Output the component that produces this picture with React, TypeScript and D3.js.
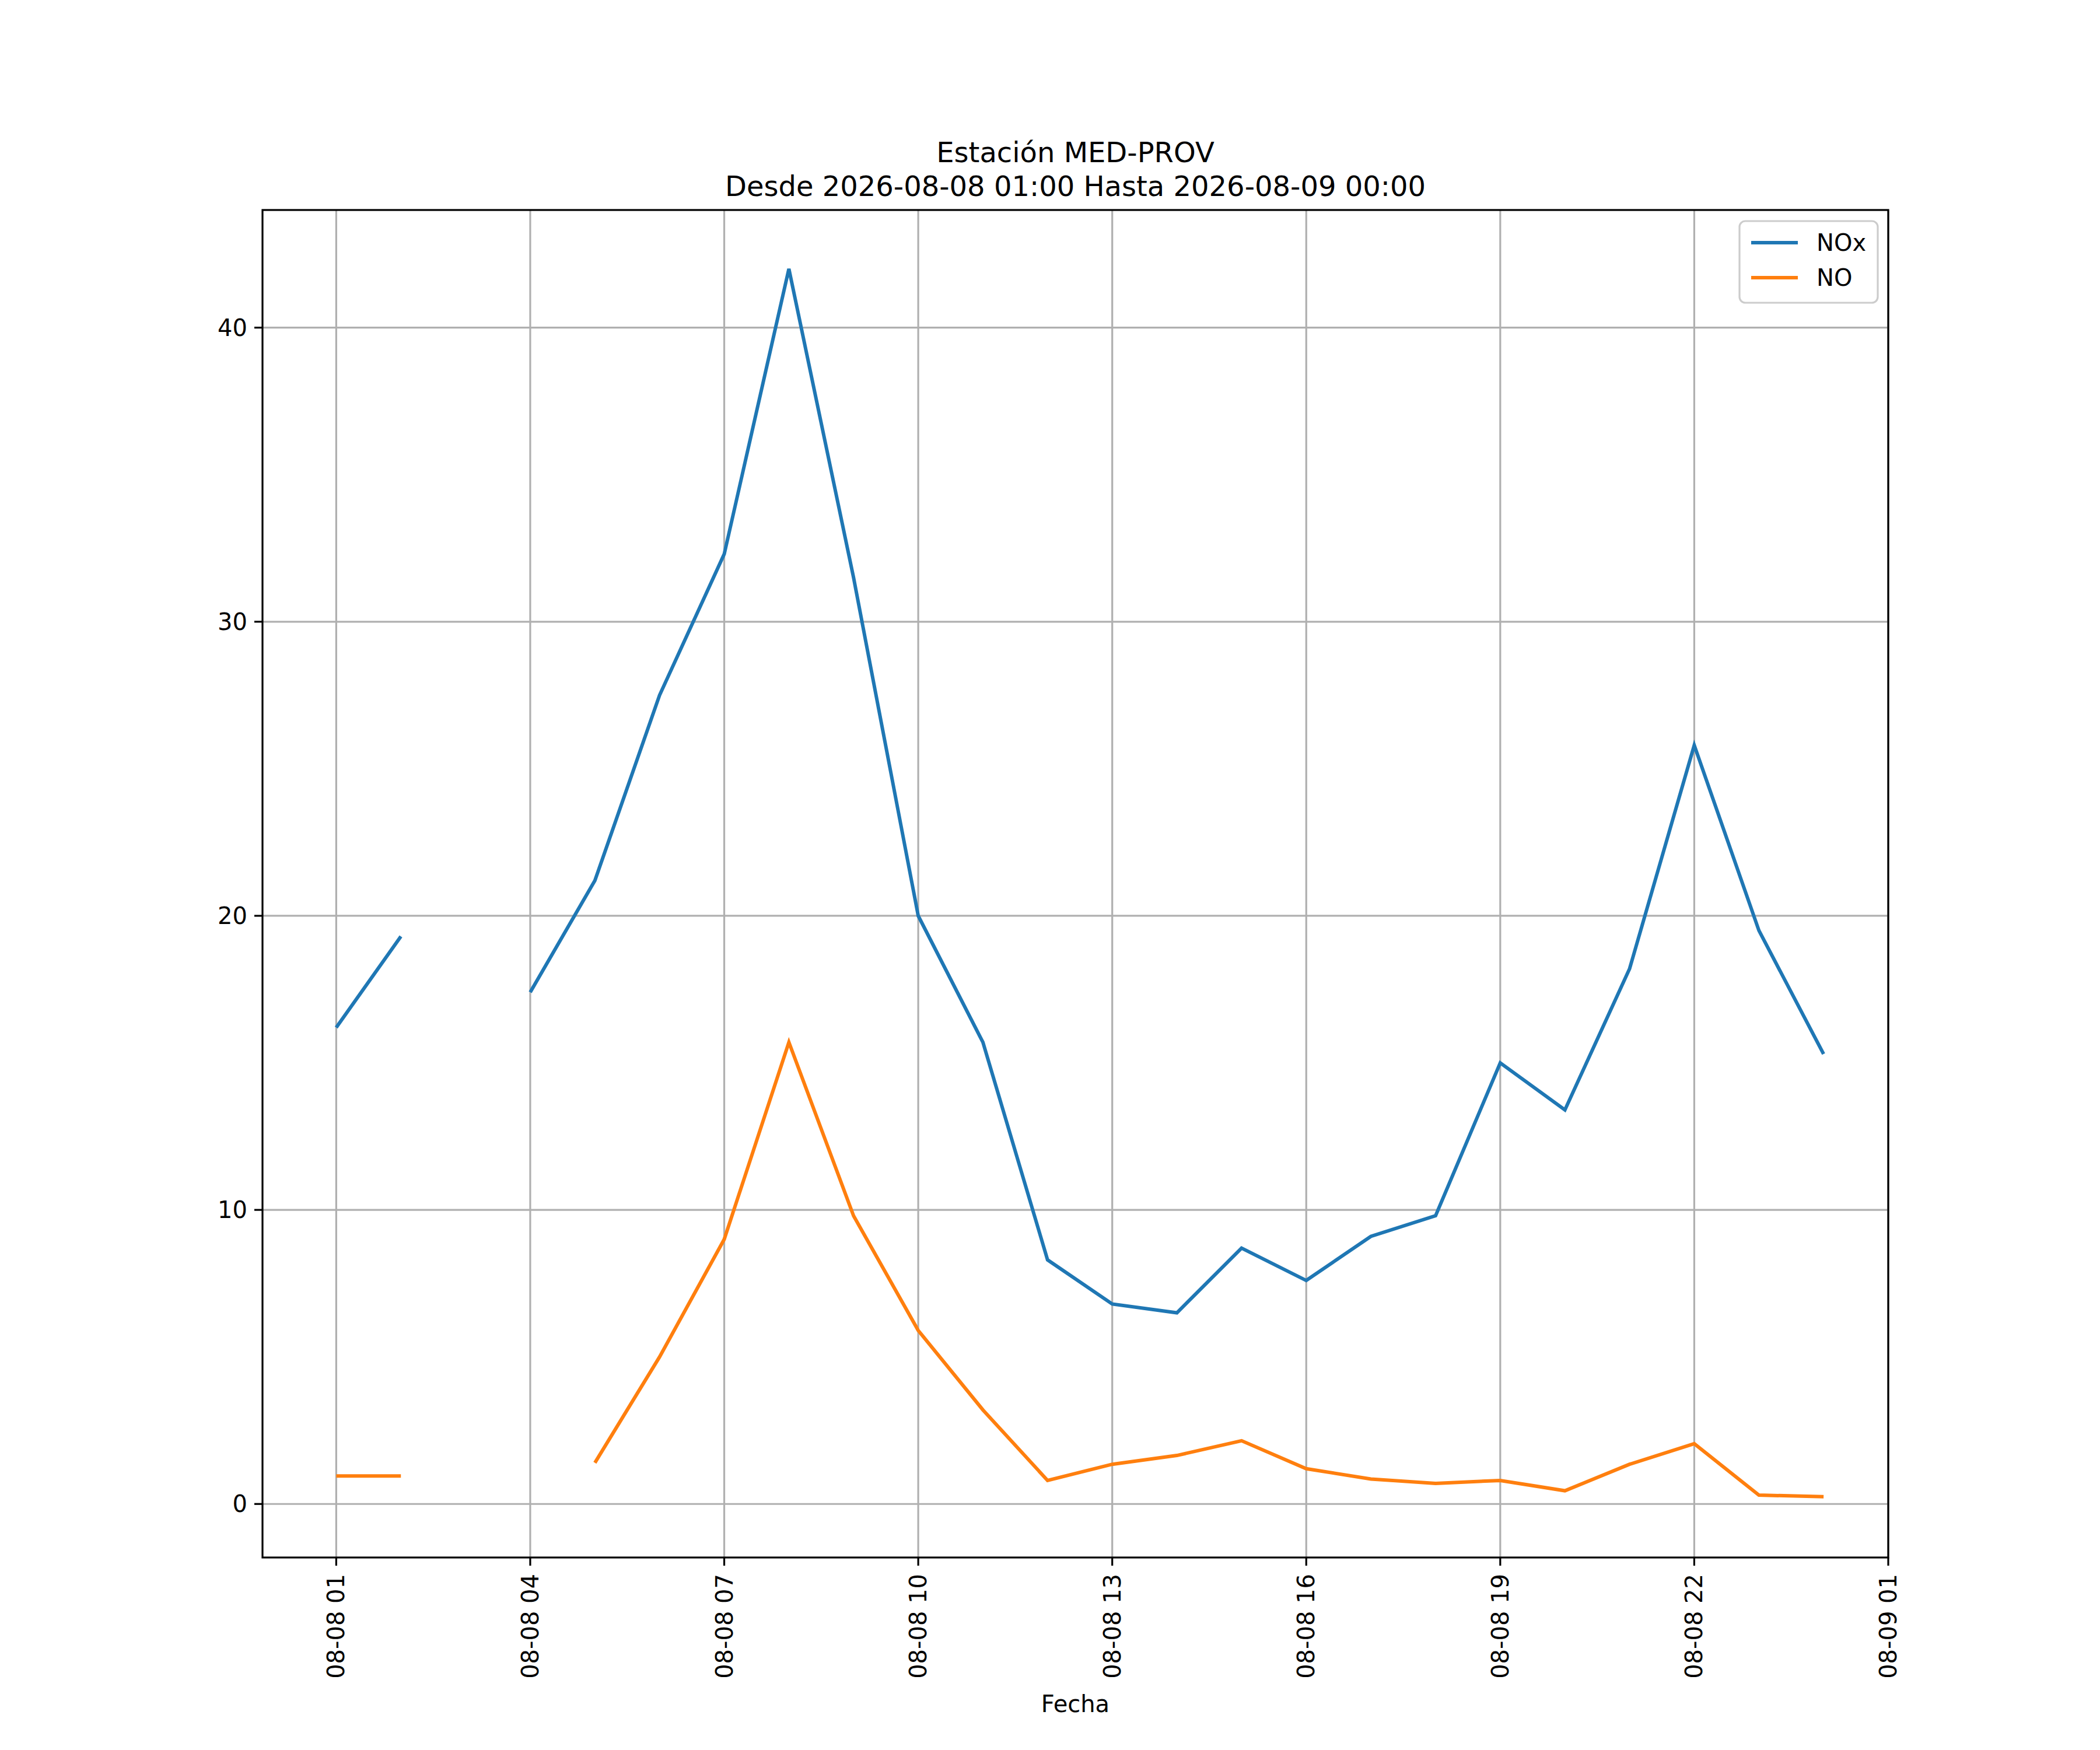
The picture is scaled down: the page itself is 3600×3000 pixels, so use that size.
import * as d3 from "d3";

const hours = ["01","02","03","04","05","06","07","08","09","10","11","12","13","14","15","16","17","18","19","20","21","22","23","00"];
const noxValues: (number | null)[] = [16.2, 19.3, null, 17.4, 21.2, 27.5, 32.3, 42.0, 31.5, 20.0, 15.7, 8.3, 6.8, 6.5, 8.7, 7.6, 9.1, 9.8, 15.0, 13.4, 18.2, 25.8, 19.5, 15.3];
const noValues: (number | null)[] = [0.95, 0.95, null, null, 1.4, 5.0, 9.0, 15.7, 9.8, 5.9, 3.2, 0.8, 1.35, 1.65, 2.15, 1.2, 0.85, 0.7, 0.8, 0.45, 1.35, 2.05, 0.3, 0.25];
const yTicks = [0, 10, 20, 30, 40];

const W = 3600, H = 3000;
const L = 450, R = 3237, T = 360, B = 2670;
const font = "DejaVu Sans, sans-serif";

const start = new Date(2026, 7, 8, 1);
const times = hours.map((_, i) => new Date(start.getTime() + i * 3600e3));

export default function App() {
  const x = d3.scaleTime()
    .domain([new Date(start.getTime() - 1.14 * 3600e3), new Date(start.getTime() + 24 * 3600e3)])
    .range([L, R]);
  const y = d3.scaleLinear().domain([-1.82, 44.0]).range([B, T]);
  const xTicks = d3.range(0, 25, 3).map(h => new Date(start.getTime() + h * 3600e3));
  const fmt = d3.timeFormat("%m-%d %H");
  const line = d3.line<number | null>()
    .defined(d => d !== null)
    .x((_, i) => x(times[i]))
    .y(d => y(d as number));
  const series = [
    { name: "NOx", values: noxValues, color: "#1f77b4" },
    { name: "NO", values: noValues, color: "#ff7f0e" },
  ];
  return (
    <svg width={W} height={H} style={{ position: "absolute", left: 0, top: 0 }} fontFamily={font}>
      <rect width={W} height={H} fill="#fff" />
      <text x={(L + R) / 2} y={278} fontSize={48} textAnchor="middle">Estación MED-PROV</text>
      <text x={(L + R) / 2} y={336} fontSize={48} textAnchor="middle">Desde 2026-08-08 01:00 Hasta 2026-08-09 00:00</text>
      {xTicks.map((t, i) => (
        <g key={i}>
          <line x1={x(t)} x2={x(t)} y1={T} y2={B} stroke="#b0b0b0" strokeWidth={3.2} />
          <line x1={x(t)} x2={x(t)} y1={B} y2={B + 14} stroke="#000" strokeWidth={3.2} />
          <text transform={`translate(${x(t) + 14},${B + 28}) rotate(-90)`} fontSize={40} textAnchor="end">{fmt(t)}</text>
        </g>
      ))}
      {yTicks.map(v => (
        <g key={v}>
          <line x1={L} x2={R} y1={y(v)} y2={y(v)} stroke="#b0b0b0" strokeWidth={3.2} />
          <line x1={L - 14} x2={L} y1={y(v)} y2={y(v)} stroke="#000" strokeWidth={3.2} />
          <text x={L - 26} y={y(v) + 14} fontSize={40} textAnchor="end">{v}</text>
        </g>
      ))}
      {series.map(s => (
        <path key={s.name} d={line(s.values) || ""} fill="none" stroke={s.color} strokeWidth={6} />
      ))}
      <rect x={L} y={T} width={R - L} height={B - T} fill="none" stroke="#000" strokeWidth={3.2} />
      <text x={(L + R) / 2} y={2935} fontSize={40} textAnchor="middle">Fecha</text>
      <rect x={2982} y={379} width={237} height={140} rx={10} fill="#fff" fillOpacity={0.8} stroke="#ccc" strokeWidth={3.2} />
      {series.map((s, i) => (
        <g key={s.name}>
          <line x1={3002} x2={3082} y1={416 + i * 60} y2={416 + i * 60} stroke={s.color} strokeWidth={6} />
          <text x={3114} y={430 + i * 60} fontSize={40}>{s.name}</text>
        </g>
      ))}
    </svg>
  );
}
